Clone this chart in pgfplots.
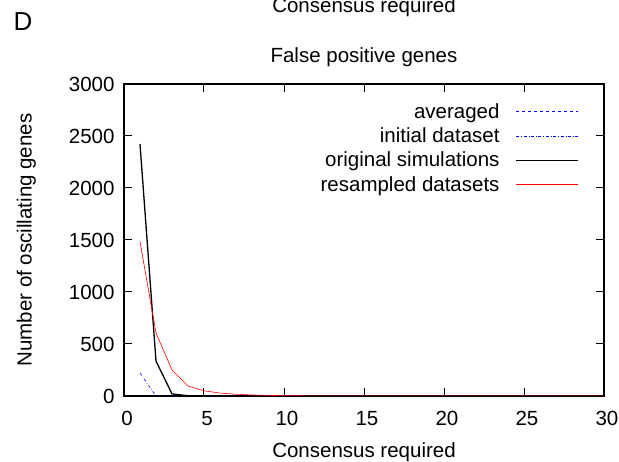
\documentclass[border=0pt]{standalone}
\usepackage{pgfplots}
\pgfplotsset{compat=1.18}
\usepackage{fontspec}
\setmainfont{Liberation Sans}
\begin{document}
\begin{tikzpicture}[x=1pt,y=1pt]
\useasboundingbox (0,0) rectangle (619,462);
\begin{axis}[
  at={(124pt,66pt)}, anchor=south west,
  scale only axis, width=480pt, height=312pt,
  xmin=0, xmax=30, ymin=0, ymax=3000,
  xtick={0,5,...,30}, ytick={0,500,...,3000},
  tick align=inside, major tick length=8pt,
  axis line style={line width=1.1pt}, tick style={line width=1pt, black},
  /pgf/number format/assume math mode=true,
  /pgf/number format/1000 sep={},
  ticklabel style={font=\fontsize{20.5}{24}\selectfont},
  xticklabel style={yshift=-12pt, xshift=3pt},
  yticklabel style={xshift=-6pt},
  xlabel={Consensus required}, ylabel={Number of oscillating genes},
  xlabel style={font=\fontsize{20.5}{24}\selectfont, yshift=-10pt},
  ylabel style={font=\fontsize{20.5}{24}\selectfont, yshift=26pt},
  title={False positive genes},
  title style={font=\fontsize{20.5}{24}\selectfont, yshift=8pt},
  legend plot pos=right,
  legend cell align=right,
  legend style={draw=none, fill=none, inner sep=0pt, at={(rel axis cs:0.948,0.945)}, anchor=north east,
    font=\fontsize{20.5}{24}\selectfont, row sep=4pt, column sep=14pt},
  legend image code/.code={\draw[#1] (0pt,0pt) -- (62pt,0pt);},
]
\addplot[blue, dashed, line width=0.6pt] coordinates {(1,0) (2,0) (3,0) (30,0)};
\addlegendentry{averaged}
\addplot[blue, dash dot, line width=0.6pt] coordinates {(1,221) (2,0) (3,0) (30,0)};
\addlegendentry{initial dataset}
\addplot[black, line width=1.3pt] coordinates {(1,2423) (2,336) (3,20) (4,3) (5,0) (30,0)};
\addlegendentry{original simulations}
\addplot[red, line width=0.6pt] coordinates {(1,1485) (2,606) (3,250) (4,96) (5,50) (6,28) (7,17) (8,10) (9,6) (10,3) (12,1) (15,0) (30,0)};
\addlegendentry{resampled datasets}
\end{axis}
\node[font=\fontsize{20.5}{24}\selectfont] at (364,455) {Consensus required};
\node[anchor=west, font=\fontsize{26}{30}\selectfont] at (10,440) {D};
\end{tikzpicture}
\end{document}
